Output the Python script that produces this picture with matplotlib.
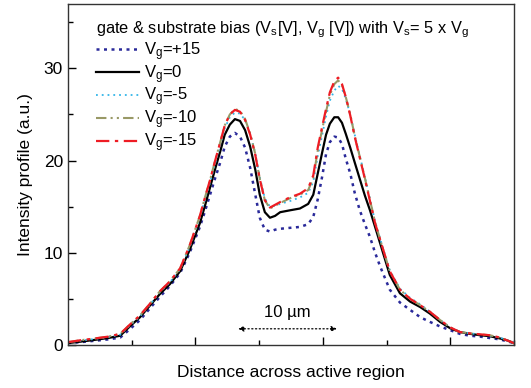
import numpy as np
import matplotlib
matplotlib.use("Agg")
import matplotlib.pyplot as plt

plt.rcParams['font.family'] = ['Liberation Sans', 'DejaVu Sans']
plt.rcParams['mathtext.fontset'] = 'custom'
plt.rcParams['mathtext.rm'] = 'Liberation Sans'
plt.rcParams['mathtext.it'] = 'Liberation Sans'

# distance across active region (arbitrary units)
dist = [0.00, 0.19, 0.42, 0.63, 0.82, 0.97, 1.13, 1.29, 1.44, 1.60, 1.76, 1.91,
        2.07, 2.15, 2.23, 2.31, 2.39, 2.46, 2.54, 2.62, 2.70, 2.78,
        2.86, 2.94, 3.01, 3.09, 3.17, 3.25, 3.33, 3.48, 3.64, 3.77,
        3.85, 3.92, 3.99, 4.05, 4.11, 4.18, 4.24, 4.30, 4.36, 4.43,
        4.50, 4.58, 4.66, 4.74, 4.82, 4.90,
        5.05, 5.21, 5.37, 5.53, 5.68, 5.84, 6.00, 6.15, 6.31, 6.47, 6.62, 6.78, 6.89, 7.00]

vg_p15 = [0.2, 0.3, 0.45, 0.6, 0.8, 1.7, 2.7, 4.0, 5.2, 6.4, 7.8, 10.0,
          12.8, 14.5, 16.3, 18.1, 19.8, 21.5, 22.6, 23.0, 22.6, 21.4,
          19.2, 16.3, 13.8, 12.5, 12.3, 12.5, 12.6, 12.7, 12.8, 13.1,
          13.9, 15.8, 18.3, 20.7, 22.0, 22.6, 22.5, 21.8, 20.2, 18.6,
          16.5, 14.6, 13.1, 11.7, 10.0, 8.5,
          6.0, 4.6, 3.8, 3.0, 2.5, 2.0, 1.6, 1.2, 1.0, 0.9, 0.75, 0.6, 0.4, 0.2]

vg_0 = [0.2, 0.35, 0.55, 0.75, 1.0, 2.0, 3.0, 4.3, 5.5, 6.6, 8.0, 10.3,
        13.2, 15.1, 17.1, 19.1, 21.0, 22.8, 23.9, 24.5, 24.3, 23.3,
        21.5, 19.0, 16.3, 14.4, 13.8, 14.0, 14.4, 14.6, 14.8, 15.3,
        16.3, 18.6, 20.9, 22.8, 24.0, 24.7, 24.7, 24.1, 22.9, 21.4,
        19.8, 18.0, 16.2, 14.6, 12.8, 11.0,
        7.6, 5.6, 4.7, 4.1, 3.4, 2.5, 1.8, 1.4, 1.2, 1.05, 0.95, 0.7, 0.5, 0.2]

vg_m5 = [0.3, 0.45, 0.65, 0.85, 1.1, 2.1, 3.1, 4.4, 5.7, 6.8, 8.2, 10.6,
         13.8, 15.8, 17.6, 19.7, 21.7, 23.5, 24.7, 25.2, 25.1, 24.4,
         22.9, 20.8, 18.2, 15.9, 15.0, 15.1, 15.3, 15.6, 16.0, 16.5,
         17.7, 20.5, 22.8, 24.8, 26.5, 27.6, 28.1, 27.8, 26.7, 25.0,
         22.8, 20.5, 18.2, 15.8, 13.4, 11.5,
         8.1, 6.1, 5.1, 4.4, 3.6, 2.7, 1.9, 1.4, 1.25, 1.15, 1.0, 0.8, 0.5, 0.3]

vg_m10 = [0.3, 0.5, 0.7, 0.9, 1.2, 2.2, 3.2, 4.5, 5.8, 6.9, 8.3, 10.8,
          14.0, 16.0, 17.9, 20.0, 22.0, 23.8, 25.0, 25.6, 25.4, 24.5,
          22.9, 20.7, 18.0, 15.7, 14.8, 15.1, 15.4, 15.9, 16.3, 16.8,
          18.1, 21.1, 23.4, 25.3, 27.1, 28.3, 28.7, 28.2, 26.9, 25.0,
          22.7, 20.4, 18.1, 15.7, 13.3, 11.4,
          8.0, 6.0, 5.0, 4.3, 3.6, 2.7, 1.9, 1.4, 1.25, 1.15, 1.05, 0.8, 0.5, 0.2]

vg_m15 = [0.3, 0.5, 0.7, 0.9, 1.2, 2.2, 3.2, 4.5, 5.8, 6.9, 8.3, 10.8,
          14.0, 16.0, 17.9, 20.0, 22.0, 23.8, 25.0, 25.5, 25.3, 24.4,
          22.8, 20.6, 18.0, 15.7, 14.9, 15.2, 15.5, 16.0, 16.4, 17.0,
          18.4, 21.4, 23.7, 25.6, 27.4, 28.6, 29.0, 28.3, 26.9, 24.9,
          22.6, 20.3, 18.0, 15.6, 13.2, 11.4,
          8.0, 6.0, 5.0, 4.3, 3.6, 2.7, 1.9, 1.4, 1.25, 1.15, 1.05, 0.8, 0.5, 0.2]

labels = [r"$\mathregular{V_g}$=+15", r"$\mathregular{V_g}$=0", r"$\mathregular{V_g}$=-5",
          r"$\mathregular{V_g}$=-10", r"$\mathregular{V_g}$=-15"]

fig = plt.figure(figsize=(5.31, 3.88), dpi=100)
ax = fig.add_axes([0.128, 0.111, 0.840, 0.879])

ax.plot(dist, vg_p15, color="#2a2a9a", lw=1.8, ls=(0, (1.2, 1.8)), label=labels[0])
ax.plot(dist, vg_0, color="black", lw=1.6, ls="-", label=labels[1])
ax.plot(dist, vg_m5, color="#33b5e8", lw=1.3, ls=(0, (1, 2.2)), label=labels[2])
ax.plot(dist, vg_m10, color="#999966", lw=1.5, ls=(0, (5, 2, 1, 2, 1, 2)), label=labels[3])
ax.plot(dist, vg_m15, color="#ee1c24", lw=1.6, ls=(0, (6, 2.5, 1.5, 2.5)), label=labels[4])

ax.set_xlim(0, 7)
ax.set_ylim(0, 37)
ax.set_xticks([2, 4, 6])
ax.set_xticks([1, 3, 5, 7], minor=True)
ax.set_xticklabels([])
ax.set_yticks([0, 10, 20, 30])
ax.set_yticks([5, 15, 25, 35], minor=True)
ax.tick_params(which="both", direction="in", top=False, right=False, labelsize=12.5)
ax.tick_params(which="major", length=6, width=1)
ax.tick_params(which="minor", length=3.5, width=1)
for s in ax.spines.values():
    s.set_linewidth(1.0)
    s.set_color("#333333")

ax.set_xlabel("Distance across active region", fontsize=12.5, labelpad=11)
ax.set_ylabel("Intensity profile (a.u.)", fontsize=12.5, labelpad=8)

leg = ax.legend(loc="upper left", bbox_to_anchor=(0.048, 0.975), frameon=False,
                title=r"gate & substrate bias ($\mathregular{V_s}$[V], $\mathregular{V_g}$ [V]) with $\mathregular{V_s}$= 5 x $\mathregular{V_g}$",
                fontsize=12, title_fontsize=11.8, handlelength=2.6, handletextpad=0.3,
                labelspacing=0.02, borderaxespad=0)
leg._legend_box.align = "left"

# 10 um scale arrow
ax.annotate("", xy=(2.67, 1.75), xytext=(4.22, 1.75),
            arrowprops=dict(arrowstyle="<|-|>", ls=(0, (1, 2)), lw=0.9, color="black",
                            mutation_scale=8, shrinkA=0, shrinkB=0))
ax.text(3.45, 3.5, "10 \u00b5m", ha="center", va="center", fontsize=12)

fig.savefig("out.png", dpi=100)
